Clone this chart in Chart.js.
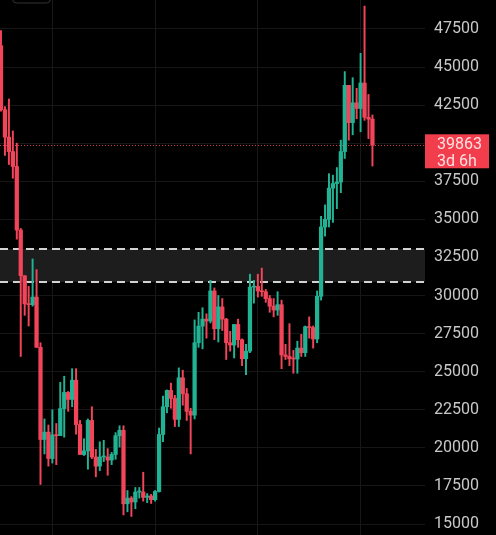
<!DOCTYPE html>
<html>
<head>
<meta charset="utf-8">
<script src="https://cdn.jsdelivr.net/npm/chart.js@4/dist/chart.umd.min.js"></script>
<style>
  html, body { margin: 0; padding: 0; background: #000; }
  #wrap { width: 496px; height: 535px; position: relative; }
</style>
</head>
<body>
<div id="wrap"><canvas id="chart"></canvas></div>
<script>
// weekly candles
const weeks = [
  '2022-04-04','2022-04-11','2022-04-18','2022-04-25','2022-05-02','2022-05-09','2022-05-16','2022-05-23','2022-05-30',
  '2022-06-06','2022-06-13','2022-06-20','2022-06-27','2022-07-04','2022-07-11','2022-07-18','2022-07-25','2022-08-01',
  '2022-08-08','2022-08-15','2022-08-22','2022-08-29','2022-09-05','2022-09-12','2022-09-19','2022-09-26','2022-10-03',
  '2022-10-10','2022-10-17','2022-10-24','2022-10-31','2022-11-07','2022-11-14','2022-11-21','2022-11-28','2022-12-05',
  '2022-12-12','2022-12-19','2022-12-26','2023-01-02','2023-01-09','2023-01-16','2023-01-23','2023-01-30','2023-02-06',
  '2023-02-13','2023-02-20','2023-02-27','2023-03-06','2023-03-13','2023-03-20','2023-03-27','2023-04-03','2023-04-10',
  '2023-04-17','2023-04-24','2023-05-01','2023-05-08','2023-05-15','2023-05-22','2023-05-29','2023-06-05','2023-06-12',
  '2023-06-19','2023-06-26','2023-07-03','2023-07-10','2023-07-17','2023-07-24','2023-07-31','2023-08-07','2023-08-14',
  '2023-08-21','2023-08-28','2023-09-04','2023-09-11','2023-09-18','2023-09-25','2023-10-02','2023-10-09','2023-10-16',
  '2023-10-23','2023-10-30','2023-11-06','2023-11-13','2023-11-20','2023-11-27','2023-12-04','2023-12-11','2023-12-18',
  '2023-12-25','2024-01-01','2024-01-08','2024-01-15','2024-01-22'
];
const opens = [
  46400,42200,40400,39450,38470,34300,31300,29450,29400,29900,26600,20550,21030,19300,20850,20800,22580,23640,
  23180,24440,21530,19560,19800,21800,19400,18800,19400,19400,19200,19570,20800,21150,16330,16700,16450,17100,
  17100,16750,16840,16600,17130,20880,22700,23770,23250,21870,24600,23550,22400,22150,26900,27990,28450,28330,
  30300,27820,29250,28450,26900,26750,28100,27100,25850,26350,30550,30600,30300,30250,29800,29300,29050,29400,
  26100,26000,25850,25830,26550,26250,27950,27900,27150,29950,34500,35000,37050,37350,37450,39450,43800,41350,
  42650,42280,43950,41700,41580
];
const highs = [
  47400,42400,42900,40800,40000,34400,31300,30600,32400,31700,26900,21900,21500,22500,21600,24300,24700,23700,
  25200,25200,21800,20600,21900,22700,19900,20400,20500,19950,19700,21000,21450,21450,17200,16800,17400,17400,
  18400,17000,16950,17200,21300,23400,23800,24250,23450,25250,25100,23900,22600,28400,28900,29200,28800,31000,
  30500,30000,29800,28500,27650,28100,28450,27150,26800,31400,31000,31400,31800,30400,30000,29800,30250,29700,
  26800,28150,26400,27000,27450,28000,28600,28000,30300,35200,35950,38000,37900,38400,40200,44700,43800,44300,
  43600,45900,49000,43200,41850
];
const lows = [
  42100,39200,38600,37700,33700,26000,28700,28000,29300,26600,17600,19600,18800,19000,18900,20800,20700,22400,
  22700,20900,19600,19500,18600,19300,18100,18500,19100,18200,18900,19250,20050,15600,15800,15500,16000,16700,
  16500,16400,16350,16500,17100,20400,22300,22600,21400,21400,22800,21800,19600,21900,26600,26500,27200,28200,
  27100,26950,27700,25800,26350,25900,26600,25400,24800,26250,29500,29900,29950,29550,28900,28600,28700,25200,
  25800,25400,24900,24900,26000,26000,27200,26550,26900,29700,33900,34500,34800,35700,36750,39000,40200,40550,
  41600,40750,41500,40300,38500
];
const closes = [
  42200,40400,39450,38470,34300,31300,29450,29400,29900,26600,20550,21030,19300,20850,20800,22580,23640,23180,
  24440,21530,19560,19800,21800,19400,18800,19400,19400,19200,19570,20800,21150,16330,16700,16450,17100,17100,
  16750,16840,16600,17130,20880,22700,23770,23250,21870,24600,23550,22400,22150,26900,27990,28450,28330,30300,
  27820,29250,28450,26900,26750,28100,27100,25850,26350,30550,30600,30300,30250,29800,29300,29050,29400,26100,
  26000,25850,25830,26550,26250,27950,27900,27150,29950,34500,35000,37050,37350,37450,39450,43800,41350,42650,
  42280,43950,41700,41580,39863
];

const yTicks = [15000,17500,20000,22500,25000,27500,30000,32500,35000,37500,40000,42500,45000,47500];
const gridWeeks = ['2022-07-04','2023-01-02','2023-07-03','2024-01-01'];
const zone = [30889, 33056];
const lastPrice = 39863;
const countdown = '3d 6h';

const UP = '#22b294';
const DOWN = '#f2455a';

const colorOf = i => closes[i] >= opens[i] ? UP : DOWN;

const wickData = weeks.map((w, i) => ({ x: i, y: [lows[i], highs[i]] }));
const bodyData = weeks.map((w, i) => ({ x: i, y: [Math.min(opens[i], closes[i]), Math.max(opens[i], closes[i])] }));

const overlay = {
  id: 'overlay',
  beforeDatasetsDraw(chart) {
    const { ctx, chartArea: a, scales: { y } } = chart;
    const yTop = y.getPixelForValue(zone[1]);
    const yBot = y.getPixelForValue(zone[0]);
    ctx.save();
    ctx.fillStyle = '#1d1d1d';
    ctx.fillRect(a.left, yTop, a.right - a.left, yBot - yTop);
    ctx.strokeStyle = '#d2d2d2';
    ctx.lineWidth = 2;
    ctx.setLineDash([8, 5]);
    [yTop, yBot].forEach(py => {
      ctx.beginPath(); ctx.moveTo(a.left, py); ctx.lineTo(a.right, py); ctx.stroke();
    });
    // current price line
    const py = Math.round(y.getPixelForValue(lastPrice)) + 0.5;
    ctx.strokeStyle = 'rgba(242,69,90,0.85)';
    ctx.lineWidth = 1;
    ctx.setLineDash([1, 2]);
    ctx.beginPath(); ctx.moveTo(a.left, py); ctx.lineTo(a.right, py); ctx.stroke();
    ctx.restore();
  },
  afterDraw(chart) {
    const { ctx, chartArea: a, scales: { y } } = chart;
    const py = y.getPixelForValue(lastPrice);
    ctx.save();
    ctx.fillStyle = '#f23e4c';
    ctx.fillRect(a.right, py - 11, 64, 34);
    ctx.fillStyle = '#ffe0e2';
    ctx.font = '16px Roboto';
    ctx.textBaseline = 'middle';
    ctx.fillText(String(lastPrice), a.right + 12, py);
    ctx.fillText(countdown, a.right + 12, py + 17);
    // little button outline at the top left
    ctx.strokeStyle = '#333';
    ctx.lineWidth = 1;
    ctx.beginPath(); ctx.roundRect(12.5, -20, 38, 23, 4); ctx.stroke();
    ctx.restore();
  }
};

new Chart(document.getElementById('chart'), {
  type: 'bar',
  data: {
    datasets: [
      {
        data: wickData, grouped: false, barThickness: 1.3, minBarLength: 1,
        backgroundColor: weeks.map((w, i) => colorOf(i))
      },
      {
        data: bodyData, grouped: false, barThickness: 3.6, minBarLength: 1,
        backgroundColor: weeks.map((w, i) => colorOf(i))
      }
    ]
  },
  options: {
    responsive: true,
    maintainAspectRatio: false,
    animation: false,
    events: [],
    layout: { padding: 0 },
    plugins: { legend: { display: false }, tooltip: { enabled: false } },
    scales: {
      x: {
        type: 'linear',
        min: -0.25,
        max: 107.3,
        offset: false,
        grid: { color: '#181818', drawTicks: false, offset: false },
        border: { display: false },
        ticks: { display: false },
        afterBuildTicks: s => { s.ticks = gridWeeks.map(w => ({ value: weeks.indexOf(w) })); },
        afterFit: s => { s.height = 0; s.paddingLeft = 0; s.paddingRight = 0; s.paddingTop = 0; s.paddingBottom = 0; }
      },
      y: {
        position: 'right',
        min: 14280,
        max: 49400,
        grid: { color: '#161616', drawTicks: false },
        border: { display: false },
        ticks: {
          color: '#c8c8c8',
          padding: 9,
          crossAlign: 'near',
          font: { family: 'Roboto', size: 16 },
          callback: v => String(v)
        },
        afterBuildTicks: s => { s.ticks = yTicks.map(v => ({ value: v })); },
        afterFit: s => { s.width = 71; s.paddingTop = 0; s.paddingBottom = 0; }
      }
    }
  },
  plugins: [overlay]
});
</script>
</body>
</html>
